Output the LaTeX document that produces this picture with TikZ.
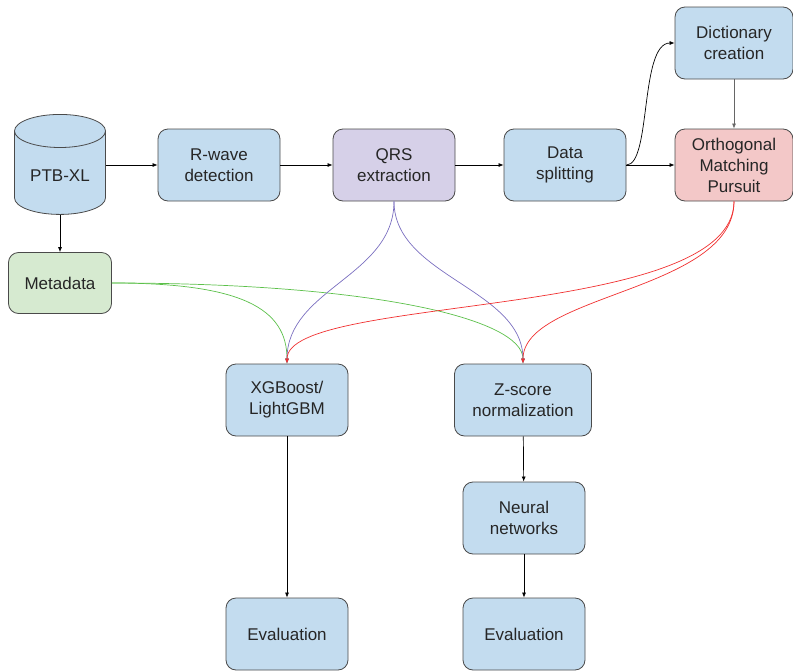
\documentclass[tikz,border=0pt]{standalone}
\usepackage{fontspec}
\setmainfont{Liberation Sans}
\usetikzlibrary{arrows.meta}
\usetikzlibrary{shapes.geometric}
\definecolor{boxblue}{HTML}{C3DCEF}
\definecolor{boxpurple}{HTML}{D6D0E8}
\definecolor{boxred}{HTML}{F3C8C8}
\definecolor{boxgreen}{HTML}{D6EAD0}
\definecolor{edgegray}{HTML}{4A4A4A}
\definecolor{linepurple}{HTML}{7B6FC0}
\definecolor{linered}{HTML}{F03030}
\definecolor{linegreen}{HTML}{5CC04A}

\begin{document}
\begin{tikzpicture}[x=1pt, y=-1pt, >={Latex[length=5pt,width=4pt]},
  stage/.style={draw=edgegray, line width=0.8pt, rounded corners=10pt, fill=boxblue,
    minimum width=122pt, minimum height=72pt, align=center, text=black!85,
    font=\fontsize{17}{21}\selectfont, inner sep=2pt},
  link/.style={->, line width=0.7pt}]
\useasboundingbox (0,0) rectangle (793,672);
\node[cylinder, shape border rotate=90, aspect=0.5, draw=edgegray, line width=0.8pt,
  fill=boxblue, minimum height=100pt, minimum width=91pt, text=black!85,
  font=\fontsize{17}{21}\selectfont] (ptb) at (60,176) {PTB-XL};
\node[stage] (rwave) at (219,165) {R-wave\\detection};
\node[stage, fill=boxpurple] (qrs) at (394,165) {QRS\\extraction};
\node[stage] (split) at (565,165) {Data\\splitting};
\node[stage, minimum width=118pt] (dict) at (734,43) {Dictionary\\creation};
\node[stage, fill=boxred, minimum width=118pt] (omp) at (734,165) {Orthogonal\\Matching\\Pursuit};
\node[stage, fill=boxgreen, minimum width=103pt, minimum height=61pt] (meta) at (60,283) {Metadata};
\node[stage] (xgb) at (287,400) {XGBoost/\\LightGBM};
\node[stage, minimum width=137pt] (zscore) at (523,400) {Z-score\\normalization};
\node[stage] (nn) at (524,518) {Neural\\networks};
\node[stage] (evalA) at (287,634) {Evaluation};
\node[stage] (evalB) at (524,634) {Evaluation};

\draw[link] (rwave.west -| ptb.east) -- (rwave.west);
\draw[link] (ptb) -- (meta);
\draw[link] (rwave) -- (qrs);
\draw[link] (qrs) -- (split);
\draw[link] (split) -- (omp);
\draw[link] (split.east) .. controls +(25,0) and +(-35,0) .. (dict.west);
\draw[link, black!60] (dict) -- (omp);

\draw[link, linegreen] (meta.east) .. controls +(130,0) and +(0,-55) .. (xgb.north);
\draw[link, linegreen] (meta.east) .. controls +(260,0) and +(0,-45) .. (zscore.north);
\draw[link, linepurple] (qrs.south) .. controls +(0,75) and +(0,-75) .. (xgb.north);
\draw[link, linepurple] (qrs.south) .. controls +(0,75) and +(0,-75) .. (zscore.north);
\draw[link, linered] (omp.south) .. controls +(0,120) and +(0,-70) .. (xgb.north);
\draw[link, linered] (omp.south) .. controls +(0,90) and +(0,-70) .. (zscore.north);

\draw[link] (xgb) -- (evalA);
\draw[link] (zscore) -- (nn);
\draw[link] (nn) -- (evalB);
\end{tikzpicture}
\end{document}
